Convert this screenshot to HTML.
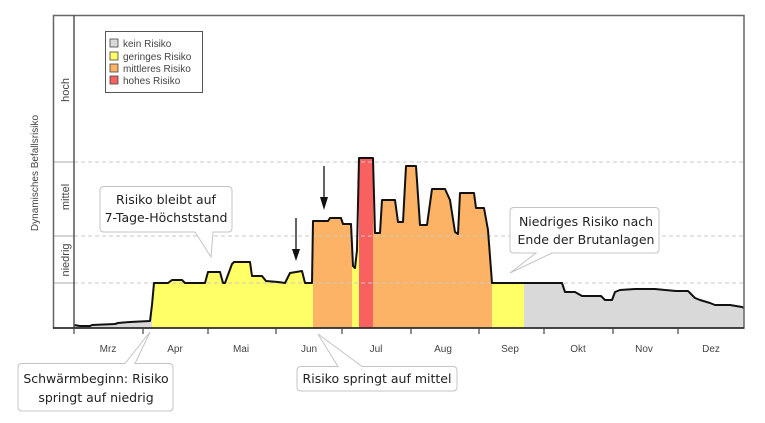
<!DOCTYPE html>
<html><head><meta charset="utf-8"><style>
body{margin:0;background:#fff}
svg{display:block}
.c{font-family:"DejaVu Sans","Liberation Sans",sans-serif;font-size:12.5px;fill:#222}
.a{font-family:"Liberation Sans",sans-serif;font-size:10px;fill:#444}
</style></head><body>
<svg width="765" height="423" viewBox="0 0 765 423" xmlns="http://www.w3.org/2000/svg">
<rect width="765" height="423" fill="#fff"/>
<!-- fills -->
<rect x="74" y="240" width="78" height="88" fill="#d9d9d9"/>
<rect x="152" y="240" width="161" height="88" fill="#ffff66"/>
<rect x="313" y="200" width="39" height="128" fill="#fdb366"/>
<rect x="352" y="240" width="7" height="88" fill="#ffff66"/>
<rect x="359" y="158" width="14" height="170" fill="#f96060"/>
<rect x="373" y="160" width="119" height="168" fill="#fdb366"/>
<rect x="492" y="280" width="32" height="48" fill="#ffff66"/>
<rect x="524" y="280" width="220" height="48" fill="#d9d9d9"/>
<!-- white mask above curve -->
<path d="M74,15 L74,325 L80,326 L90,326 L92,325 L115,324 L118,323 L130,322 L150,321 L152,305 L154,283 L168,283 L172,280 L182,280 L185,283 L205,283 L208,272 L220,272 L223,283 L225,283 L232,264 L234,262 L250,262 L252,276 L262,276 L266,281 L278,282 L285,283 L290,273 L302,271 L305,283 L312,283 L313,221 L328,221 L330,218 L341,218 L343,224 L351,224 L353,266 L355,268 L357,250 L359,158 L373,158 L375,233 L380,233 L382,200 L395,200 L398,222 L403,222 L406,166 L416,166 L420,225 L427,225 L432,189 L445,189 L450,200 L455,232 L458,234 L460,193 L474,193 L476,208 L484,208 L488,230 L492,283 L562,283 L565,292 L575,292 L582,296 L601,296 L605,300 L612,300 L615,292 L620,290 L635,289 L655,289 L665,290 L676,291 L688,291 L695,298 L700,300 L710,303 L715,305 L730,305 L742,307 L744,308 L744,15 Z" fill="#fff"/>
<!-- grid -->
<g stroke="#c8c8c8" stroke-dasharray="4,3" stroke-width="1">
<line x1="74" y1="162" x2="744" y2="162"/><line x1="74" y1="236" x2="744" y2="236"/><line x1="74" y1="283" x2="744" y2="283"/>
</g>
<g stroke="#aaa"><line x1="53" y1="162" x2="74" y2="162"/><line x1="53" y1="236" x2="74" y2="236"/><line x1="53" y1="283" x2="74" y2="283"/></g>
<!-- curve -->
<path d="M74,325 L80,326 L90,326 L92,325 L115,324 L118,323 L130,322 L150,321 L152,305 L154,283 L168,283 L172,280 L182,280 L185,283 L205,283 L208,272 L220,272 L223,283 L225,283 L232,264 L234,262 L250,262 L252,276 L262,276 L266,281 L278,282 L285,283 L290,273 L302,271 L305,283 L312,283 L313,221 L328,221 L330,218 L341,218 L343,224 L351,224 L353,266 L355,268 L357,250 L359,158 L373,158 L375,233 L380,233 L382,200 L395,200 L398,222 L403,222 L406,166 L416,166 L420,225 L427,225 L432,189 L445,189 L450,200 L455,232 L458,234 L460,193 L474,193 L476,208 L484,208 L488,230 L492,283 L562,283 L565,292 L575,292 L582,296 L601,296 L605,300 L612,300 L615,292 L620,290 L635,289 L655,289 L665,290 L676,291 L688,291 L695,298 L700,300 L710,303 L715,305 L730,305 L742,307 L744,308" fill="none" stroke="#111" stroke-width="2" stroke-linejoin="round"/>
<!-- frame -->
<rect x="53.5" y="15.5" width="690.5" height="312.5" fill="none" stroke="#666" stroke-width="1.5"/>
<line x1="74" y1="15" x2="74" y2="328" stroke="#555" stroke-width="1.5"/>
<line x1="53" y1="328" x2="744" y2="328" stroke="#222" stroke-width="1.5"/>
<g stroke="#444" stroke-width="1.2">
<line x1="74" y1="328" x2="74" y2="334"/><line x1="143" y1="328" x2="143" y2="334"/><line x1="208" y1="328" x2="208" y2="334"/><line x1="276" y1="328" x2="276" y2="334"/><line x1="342" y1="328" x2="342" y2="334"/><line x1="411" y1="328" x2="411" y2="334"/><line x1="479" y1="328" x2="479" y2="334"/><line x1="544" y1="328" x2="544" y2="334"/><line x1="613" y1="328" x2="613" y2="334"/><line x1="678" y1="328" x2="678" y2="334"/>
</g>
<g class="a" text-anchor="middle">
<text x="108" y="352">Mrz</text><text x="175" y="352">Apr</text><text x="241" y="352">Mai</text><text x="309" y="352">Jun</text><text x="376" y="352">Jul</text><text x="443" y="352">Aug</text><text x="510" y="352">Sep</text><text x="578" y="352">Okt</text><text x="644" y="352">Nov</text><text x="711" y="352">Dez</text>
<text transform="translate(69,90) rotate(-90)" font-size="11">hoch</text>
<text transform="translate(69,197) rotate(-90)" font-size="11">mittel</text>
<text transform="translate(69,260) rotate(-90)" font-size="11">niedrig</text>
<text transform="translate(38,173) rotate(-90)">Dynamisches Befallsrisiko</text>
</g>
<!-- legend -->
<rect x="105.5" y="31.5" width="97" height="61" fill="#fff" stroke="#555"/>
<g stroke="#444" stroke-width="0.8">
<rect x="110" y="39" width="8" height="8" fill="#d9d9d9"/><rect x="110" y="52" width="8" height="8" fill="#ffff66"/><rect x="110" y="64" width="8" height="8" fill="#fdb366"/><rect x="110" y="76" width="8" height="8" fill="#f96060"/>
</g>
<g class="a"><text x="123" y="47">kein Risiko</text><text x="123" y="60">geringes Risiko</text><text x="123" y="72">mittleres Risiko</text><text x="123" y="84">hohes Risiko</text></g>
<!-- arrows -->
<g stroke="#111" stroke-width="1.3"><line x1="296" y1="218" x2="296" y2="252"/><line x1="324" y1="166" x2="324" y2="200"/></g>
<path d="M292,249 L296,261 L300,249 Z M320,197 L324,210 L328,197 Z" fill="#111"/>
<!-- callouts -->
<g fill="#fff" stroke="#c4c4c4" stroke-width="1">
<path d="M104,186.5 H228 Q232,186.5 232,190.5 V228 Q232,232 228,232 H213 L211,257 L195,232 H104 Q100,232 100,228 V190.5 Q100,186.5 104,186.5 Z"/>
<path d="M22,363.5 H125 L150,332 L135,363.5 H169 Q173,363.5 173,367.5 V407 Q173,411 169,411 H22 Q18,411 18,407 V367.5 Q18,363.5 22,363.5 Z"/>
<path d="M301,366.5 H338 L318,334 L362,366.5 H453 Q457,366.5 457,370.5 V387 Q457,391 453,391 H301 Q297,391 297,387 V370.5 Q297,366.5 301,366.5 Z"/>
<path d="M514,207.5 H655 Q659,207.5 659,211.5 V249 Q659,253 655,253 H552 L510,273 L536,253 H514 Q510,253 510,249 V211.5 Q510,207.5 514,207.5 Z"/>
</g>
<g class="c" text-anchor="middle">
<text x="166" y="204">Risiko bleibt auf</text><text x="166" y="222">7-Tage-Höchststand</text>
<text x="96" y="383">Schwärmbeginn: Risiko</text><text x="96" y="402">springt auf niedrig</text>
<text x="377" y="383">Risiko springt auf mittel</text>
<text x="586" y="226">Niedriges Risiko nach</text><text x="586" y="244">Ende der Brutanlagen</text>
</g>
</svg>
</body></html>
